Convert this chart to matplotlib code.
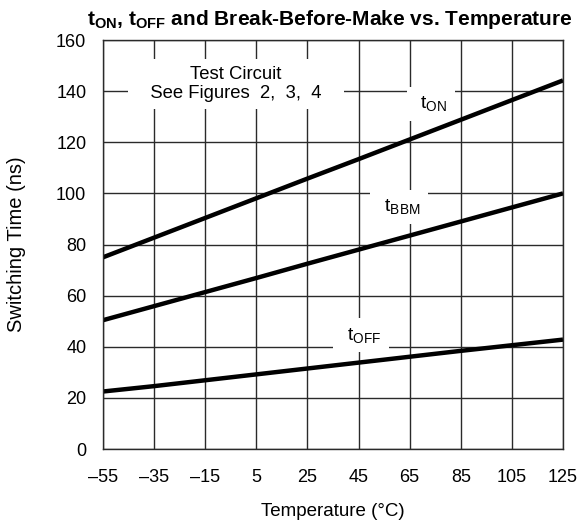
import numpy as np
import matplotlib.pyplot as plt

plt.rcParams['font.family'] = ['Liberation Sans', 'DejaVu Sans']
plt.rcParams['mathtext.fontset'] = 'custom'
plt.rcParams['mathtext.rm'] = 'Liberation Sans'
plt.rcParams['mathtext.bf'] = 'Liberation Sans:bold'

temp = [-55, -35, -15, 5, 25, 45, 65, 85, 105, 125]
t_on = [75, 82.7, 90.4, 98.1, 105.8, 113.4, 121.1, 128.8, 136.5, 144.2]
t_bbm = [50.4, 55.9, 61.4, 66.9, 72.5, 78, 83.5, 89, 94.5, 100]
t_off = [22.5, 24.6, 26.9, 29.2, 31.5, 33.8, 36.1, 38.4, 40.6, 42.8]

xticklabels = ['\u201355', '\u201335', '\u201315', '5', '25', '45', '65', '85', '105', '125']
yticks = [0, 20, 40, 60, 80, 100, 120, 140, 160]

fig = plt.figure(figsize=(5.85, 5.24), dpi=100)
ax = fig.add_axes([0.1761, 0.1431, 0.7863, 0.7805])

for y in (t_on, t_bbm, t_off):
    ax.plot(temp, y, c='k', lw=3.2, solid_capstyle='butt', zorder=2)

ax.set_xlim(-55, 125)
ax.set_ylim(0, 160)
ax.set_xticks(temp)
ax.set_xticklabels(xticklabels)
ax.set_yticks(yticks)
ax.grid(True, c='#2a2a2a', lw=1.0)
ax.set_axisbelow(True)
for s in ax.spines.values():
    s.set_linewidth(1.0)
    s.set_color('#2a2a2a')
ax.tick_params(length=0, labelsize=13)
ax.tick_params(axis='x', pad=14.5)
ax.tick_params(axis='y', pad=12)

ax.text(-3, 142.8, '   Test Circuit   \n   See Figures  2,  3,  4   ', ha='center', va='center',
        fontsize=13.3, linespacing=1.1, zorder=1,
        bbox=dict(fc='white', ec='none', pad=5))
lbl_box = dict(fc='white', ec='none', pad=5.3)
ax.text(73.3, 135, r'$\mathregular{\ t_{ON}\ }$', ha='center', va='center', fontsize=14,
        zorder=1, bbox=lbl_box)
ax.text(60.8, 94.7, r'$\mathregular{\ t_{BBM}\ }$', ha='center', va='center', fontsize=14,
        zorder=1, bbox=lbl_box)
ax.text(46, 44.6, r'$\mathregular{\ t_{OFF}\ }$', ha='center', va='center', fontsize=14,
        zorder=1, bbox=lbl_box)

fig.text(330 / 585, 0.952,
         r'$\mathbf{t_{ON}}$, $\mathbf{t_{OFF}}$ and Break-Before-Make vs. Temperature',
         ha='center', va='baseline', fontsize=15, fontweight='bold')
ax.set_xlabel('Temperature (\u00b0C)', fontsize=13.5, labelpad=12)
ax.set_ylabel('Switching Time (ns)', fontsize=14.5, labelpad=22)

fig.savefig('out.png', dpi=100)
